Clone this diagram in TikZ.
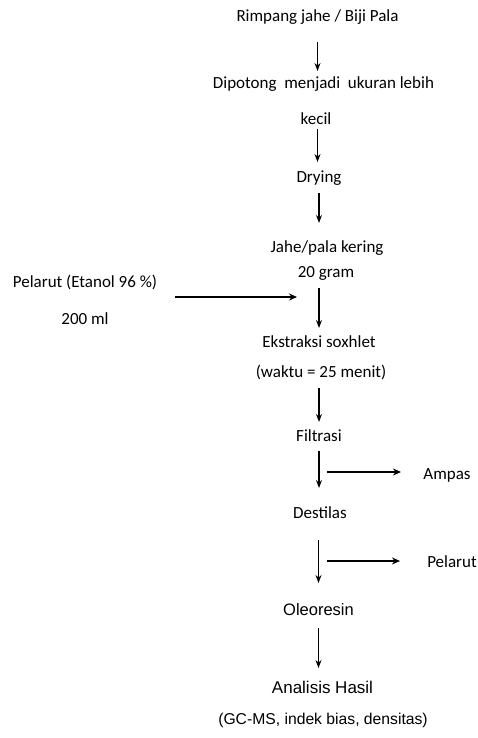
\documentclass[tikz,border=0pt]{standalone}
\usepackage{fontspec}
\setmainfont{Carlito}
\newfontfamily\arialfont{Liberation Sans}
\usepackage{tikz}
\usetikzlibrary{arrows.meta}
\tikzset{steptext/.style={inner sep=2pt, font=\fontsize{17}{20}\selectfont},
arialtext/.style={inner sep=2pt, font=\arialfont\fontsize{16.5}{19}\selectfont},
flow/.style={-{Stealth[length=8pt, width=6pt]}, line width=1.1pt},
sideflow/.style={-{Stealth[length=8pt, width=7pt]}, line width=1.5pt}}

\begin{document}
\begin{tikzpicture}[x=1pt, y=1pt]
        \useasboundingbox (0, 0) rectangle (478, -738);
        % Steps
        \node[steptext] (rimpang) at (317.5, -17) {Rimpang jahe / Biji Pala};
        \node[steptext] (dipotong) at (323.5, -84) {Dipotong\ \ menjadi\ \ ukuran lebih};
        \node[steptext] (kecil) at (316, -119) {kecil};
        \node[steptext] (drying) at (319, -178) {Drying};
        \node[steptext] (jahe) at (327, -248) {Jahe/pala kering};
        \node[steptext] (gram) at (326, -273) {20 gram};
        \node[steptext] (pelarut) at (85, -282) {Pelarut (Etanol 96 \%)};
        \node[steptext] (ml) at (85, -319) {200 ml};
        \node[steptext] (ekstraksi) at (319, -342) {Ekstraksi soxhlet};
        \node[steptext] (waktu) at (321, -372) {(waktu = 25 menit)};
        \node[steptext] (filtrasi) at (319, -436) {Filtrasi};
        \node[steptext] (ampas) at (447, -475) {Ampas};
        \node[steptext] (destilasi) at (320, -513) {Destilas};
        \node[steptext] (pelarutout) at (452, -562) {Pelarut};
        \node[arialtext] (oleoresin) at (318.5, -610) {Oleoresin};
        \node[arialtext, font=\arialfont\fontsize{17}{20}\selectfont] (analisis) at (322.5, -687) {Analisis Hasil};
        \node[arialtext, font=\arialfont\fontsize{15.7}{19}\selectfont] (uji) at (323, -720) {(GC-MS, indek bias, densitas)};
        % Branch points
        \coordinate (solvin) at (297, -297);
        \coordinate (ampasout) at (327, -472);
        \coordinate (solvout) at (327, -561);
        % Arrows
        \draw[flow, shorten <=25pt, shorten >=13pt] (rimpang.center) -- (rimpang.center |- dipotong.center);
        \draw[flow, shorten <=10pt, shorten >=16pt] (kecil.center -| rimpang.center) -- (drying.center -| rimpang.center);
        \draw[flow, shorten <=15pt, shorten >=25pt] (drying.center) -- (drying.center |- jahe.center);
        \draw[flow, shorten <=15pt, shorten >=14pt] (ekstraksi.center |- gram.center) -- (ekstraksi.center);
        \draw[flow, shorten <=16pt, shorten >=14pt] (filtrasi.center |- waktu.center) -- (filtrasi.center);
        \draw[flow, shorten <=15pt, shorten >=25pt] (filtrasi.center) -- (filtrasi.center |- destilasi.center);
        \draw[flow, shorten <=27pt, shorten >=27pt] (oleoresin.center |- destilasi.center) -- (oleoresin.center);
        \draw[flow, shorten <=18pt, shorten >=19pt] (oleoresin.center) -- (oleoresin.center |- analisis.center);
        \draw[sideflow, shorten <=90pt] (pelarut.center |- solvin) -- (solvin);
        \draw[sideflow, shorten >=46pt] (ampasout) -- (ampasout -| ampas.center);
        \draw[sideflow, line width=2.5pt, shorten >=52pt] (solvout) -- (solvout -| pelarutout.center);
\end{tikzpicture}
\end{document}
